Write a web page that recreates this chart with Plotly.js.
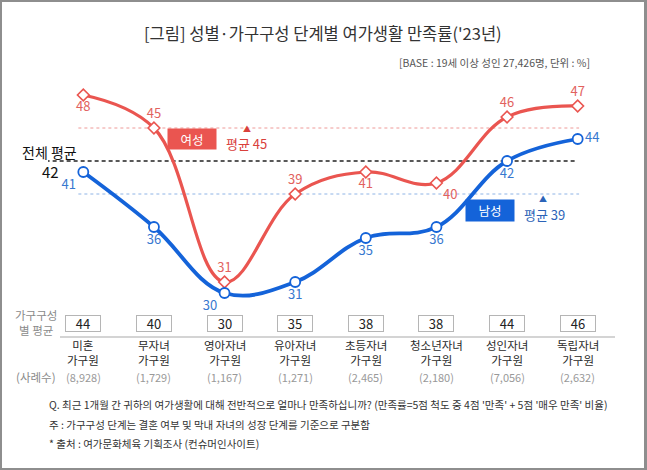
<!DOCTYPE html>
<html>
<head>
<meta charset="utf-8">
<script src="https://cdn.plot.ly/plotly-3.0.1.min.js"></script>
<style>
html,body{margin:0;padding:0;background:#fff;}
#wrap{position:relative;width:647px;height:470px;}
#chart{width:647px;height:470px;}
#frame{position:absolute;left:0;top:0;width:647px;height:470px;box-sizing:border-box;border:2px solid #8e8e8e;border-right-width:3px;pointer-events:none;}
</style>
</head>
<body>
<div id="wrap"><div id="chart"></div><div id="frame"></div></div>
<script>
// ---- data ----
const categories = ['미혼<br>가구원','무자녀<br>가구원','영아자녀<br>가구원','유아자녀<br>가구원','초등자녀<br>가구원','청소년자녀<br>가구원','성인자녀<br>가구원','독립자녀<br>가구원'];
const female = [48, 45, 31, 39, 41, 40, 46, 47];
const male = [41, 36, 30, 31, 35, 36, 42, 44];
const groupAvg = [44, 40, 30, 35, 38, 38, 44, 46];
const sampleN = ['(8,928)','(1,729)','(1,167)','(1,271)','(2,465)','(2,180)','(7,056)','(2,632)'];
const femaleAvg = 45;
const maleAvg = 39;
const totalAvg = 42;

const titleText = "[그림] 성별·가구구성 단계별 여가생활 만족률('23년)";
const baseText = "[BASE : 19세 이상 성인 27,426명, 단위 : %]";
const notes = [
  "Q. 최근 1개월 간 귀하의 여가생활에 대해 전반적으로 얼마나 만족하십니까? (만족률=5점 척도 중 4점 '만족' + 5점 '매우 만족' 비율)",
  "주 : 가구구성 단계는 결혼 여부 및 막내 자녀의 성장 단계를 기준으로 구분함",
  "* 출처 : 여가문화체육 기획조사 (컨슈머인사이트)"
];

const RED = '#EA5550';
const RED_T = '#E2625E';
const BLUE = '#1463D9';
const BLUE_T = '#3778CF';
const FONT = '"Noto Sans CJK KR", "Noto Sans", sans-serif';

const xIdx = categories.map((_, i) => i);

// plot area geometry (pixels)
const W = 647, H = 470;
const mL = 48, mR = 34, mT = 80, mB = 165;
const plotBottom = H - mB; // 305
function ys(py){ return plotBottom - py; } // yshift relative to paper y=0

const femaleTrace = {
  x: xIdx, y: female, type: 'scatter', mode: 'lines+markers+text',
  line: {color: RED, width: 3.2, shape: 'spline', smoothing: 1.1},
  marker: {symbol: 'diamond', size: 9, color: '#fff', line: {color: RED, width: 1.6}},
  text: female.map(String),
  textposition: ['bottom center','top center','top center','top center','bottom center','bottom right','top center','top center'],
  textfont: {family: FONT, size: 13, color: RED_T},
  cliponaxis: false, hoverinfo: 'skip', showlegend: false
};
const maleTrace = {
  x: xIdx, y: male, type: 'scatter', mode: 'lines+markers+text',
  line: {color: BLUE, width: 3.8, shape: 'spline', smoothing: 1.1},
  marker: {symbol: 'circle', size: 10, color: '#fff', line: {color: BLUE, width: 1.8}},
  text: male.map(String),
  textposition: ['bottom left','bottom center','bottom left','bottom center','bottom center','bottom center','bottom center','middle right'],
  textfont: {family: FONT, size: 13, color: BLUE_T},
  cliponaxis: false, hoverinfo: 'skip', showlegend: false
};

const shapes = [
  {type:'line', xref:'x', yref:'y', x0:-0.93, x1:6.98, y0: totalAvg, y1: totalAvg, line:{color:'#222', width:1.3, dash:'4px,3px'}, layer:'below'},
  {type:'line', xref:'x', yref:'y', x0:-0.07, x1:7.02, y0: femaleAvg, y1: femaleAvg, line:{color:'#EE9A98', width:1, dash:'dot'}, layer:'below'},
  {type:'line', xref:'x', yref:'y', x0:-0.07, x1:7.02, y0: maleAvg, y1: maleAvg, line:{color:'#8FB4E6', width:1, dash:'dot'}, layer:'below'},
  {type:'line', xref:'paper', yref:'paper', x0:(60-mL)/565, x1:(615-mL)/565, y0:(plotBottom-337)/(H-mT-mB), y1:(plotBottom-337)/(H-mT-mB), line:{color:'#aaaaaa', width:1.2}}
];

const ann = [];
// title & base
ann.push({xref:'paper', yref:'paper', x:(323-mL)/565, y:1, yshift: mT-33, xanchor:'center', yanchor:'middle', showarrow:false,
  text: titleText, font:{family:FONT, size:16.5, color:'#333'}});
ann.push({xref:'paper', yref:'paper', x:(592-mL)/565, y:1, yshift: mT-62, xanchor:'right', yanchor:'middle', showarrow:false,
  text: baseText, font:{family:FONT, size:10.5, color:'#555'}});
// 전체 평균
ann.push({xref:'paper', yref:'paper', x:(20-mL)/565, y:0, yshift: ys(152), xanchor:'left', yanchor:'middle', showarrow:false,
  text:'전체 평균', font:{family:FONT, size:14, color:'#111'}});
ann.push({xref:'paper', yref:'paper', x:(61-mL)/565, y:0, yshift: ys(171), xanchor:'right', yanchor:'middle', showarrow:false,
  text: String(totalAvg), font:{family:FONT, size:15, color:'#111'}});
// 여성 legend box
ann.push({xref:'paper', yref:'paper', x:(192-mL)/565, y:0, yshift: ys(139), xanchor:'center', yanchor:'middle', showarrow:false,
  text:'여성', font:{family:FONT, size:12.5, color:'#fff'}, bgcolor: RED, width: 46, height: 18, borderpad: 1});
ann.push({xref:'paper', yref:'paper', x:(224-mL)/565, y:0, yshift: ys(143), xanchor:'left', yanchor:'middle', showarrow:false,
  text:'평균 ' + femaleAvg, font:{family:FONT, size:13, color:'#D9403B'}});
ann.push({xref:'paper', yref:'paper', x:(247-mL)/565, y:0, yshift: ys(128), xanchor:'center', yanchor:'middle', showarrow:false,
  text:'▲', font:{family:FONT, size:8, color:'#D9403B'}});
// 남성 legend box
ann.push({xref:'paper', yref:'paper', x:(490-mL)/565, y:0, yshift: ys(210), xanchor:'center', yanchor:'middle', showarrow:false,
  text:'남성', font:{family:FONT, size:12.5, color:'#fff'}, bgcolor: BLUE, width: 46, height: 19, borderpad: 1});
ann.push({xref:'paper', yref:'paper', x:(522-mL)/565, y:0, yshift: ys(214), xanchor:'left', yanchor:'middle', showarrow:false,
  text:'평균 ' + maleAvg, font:{family:FONT, size:13, color:'#2C63B8'}});
ann.push({xref:'paper', yref:'paper', x:(543-mL)/565, y:0, yshift: ys(198), xanchor:'center', yanchor:'middle', showarrow:false,
  text:'▲', font:{family:FONT, size:8, color:'#2C63B8'}});
// row headers
ann.push({xref:'paper', yref:'paper', x:(36-mL)/565, y:0, yshift: ys(322), xanchor:'center', yanchor:'middle', showarrow:false,
  text:'가구구성<br>별 평균', align:'center', font:{family:FONT, size:11.5, color:'#8a8a8a'}});
ann.push({xref:'paper', yref:'paper', x:(36-mL)/565, y:0, yshift: ys(377), xanchor:'center', yanchor:'middle', showarrow:false,
  text:'(사례수)', font:{family:FONT, size:11.5, color:'#8a8a8a'}});
// per-category boxes, labels, counts
xIdx.forEach(i => {
  ann.push({xref:'x', yref:'paper', x:i, y:0, yshift: ys(323), xanchor:'center', yanchor:'middle', showarrow:false,
    text: String(groupAvg[i]), font:{family:FONT, size:13, color:'#222'}, bgcolor:'#fff',
    bordercolor:'#b5b5b5', borderwidth:1, width:34, height:15, borderpad:0});
  ann.push({xref:'x', yref:'paper', x:i, y:0, yshift: ys(352), xanchor:'center', yanchor:'middle', showarrow:false,
    text: categories[i], align:'center', font:{family:FONT, size:11.5, color:'#2a2a2a'}});
  ann.push({xref:'x', yref:'paper', x:i, y:0, yshift: ys(377), xanchor:'center', yanchor:'middle', showarrow:false,
    text: sampleN[i], font:{family:FONT, size:11, color:'#999'}});
});
// notes
const noteY = [404, 424, 443];
notes.forEach((t, k) => {
  ann.push({xref:'paper', yref:'paper', x:(47-mL)/565, y:0, yshift: ys(noteY[k]), xanchor:'left', yanchor:'middle', showarrow:false,
    text: t, font:{family:FONT, size:10.5, color:'#333'}});
});

const layout = {
  width: W, height: H,
  margin: {l: mL, r: mR, t: mT, b: mB, pad: 0},
  paper_bgcolor: '#fff', plot_bgcolor: '#fff',
  xaxis: {range: [-0.5, 7.5], visible: false, fixedrange: true},
  yaxis: {range: [42 - 144/11, 42 + 81/11], visible: false, fixedrange: true},
  shapes: shapes,
  annotations: ann,
  font: {family: FONT},
  showlegend: false
};

Plotly.newPlot('chart', [femaleTrace, maleTrace], layout, {displayModeBar: false, staticPlot: true});
</script>
</body>
</html>
